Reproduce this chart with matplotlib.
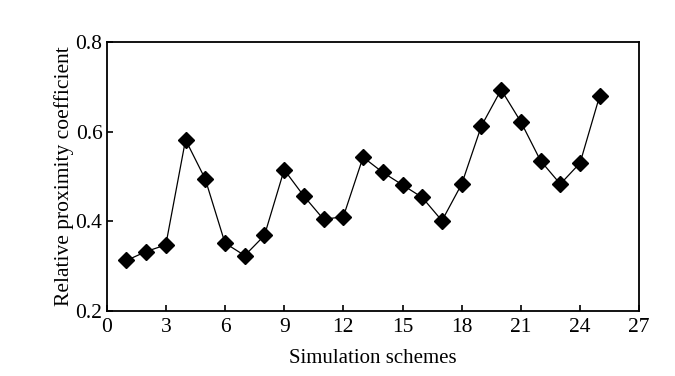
import matplotlib
matplotlib.use("Agg")
import matplotlib.pyplot as plt

schemes = list(range(1, 26))
coeff = [0.312, 0.332, 0.347, 0.582, 0.494, 0.351, 0.323, 0.368, 0.515, 0.456,
         0.404, 0.410, 0.543, 0.509, 0.481, 0.453, 0.401, 0.483, 0.613, 0.694,
         0.622, 0.535, 0.483, 0.530, 0.681]
xticks = [0, 3, 6, 9, 12, 15, 18, 21, 24, 27]
yticks = [0.2, 0.4, 0.6, 0.8]

plt.rcParams['font.family'] = ['Liberation Serif', 'DejaVu Serif']

fig = plt.figure(figsize=(6.75, 3.76), dpi=100)
ax = fig.add_axes([0.158, 0.174, 0.789, 0.7135])
ax.plot(schemes, coeff, color='black', linewidth=0.9, marker='D', markersize=8,
        markerfacecolor='black', markeredgecolor='black')
ax.set_xlim(0, 27)
ax.set_ylim(0.2, 0.8)
ax.set_xticks(xticks)
ax.set_yticks(yticks)
ax.set_yticklabels([f"{v:.1f}" for v in yticks])
ax.tick_params(direction='in', length=4, width=1.2, labelsize=15.5, top=False, right=False)
ax.tick_params(axis='x', pad=5)
ax.tick_params(axis='y', pad=3)
for s in ax.spines.values():
    s.set_linewidth(1.3)
ax.set_xlabel('Simulation schemes', fontsize=15, labelpad=9)
ax.set_ylabel('Relative proximity coefficient', fontsize=15.5, labelpad=1)
fig.savefig('out.png', dpi=100)
